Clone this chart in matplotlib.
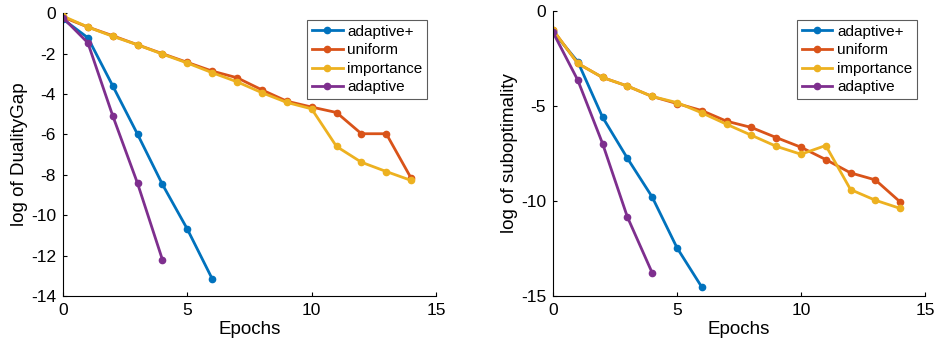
import matplotlib
matplotlib.use("Agg")
import matplotlib.pyplot as plt

plt.rcParams['font.family'] = ['Liberation Sans', 'DejaVu Sans']
plt.rcParams['axes.unicode_minus'] = False

# MATLAB default colours
colors = ['#0072BD', '#D95319', '#EDB120', '#7E2F8E']
names = ['adaptive+', 'uniform', 'importance', 'adaptive']

# left panel: log of DualityGap
gap_adaptive_plus = [-0.3, -1.22, -3.6, -6.0, -8.48, -10.69, -13.15]
gap_uniform = [-0.2, -0.69, -1.12, -1.57, -2.01, -2.44, -2.87, -3.2, -3.8, -4.36,
               -4.65, -4.92, -5.97, -5.97, -8.17]
gap_importance = [-0.15, -0.69, -1.15, -1.57, -2.03, -2.47, -2.95, -3.4, -3.94, -4.42,
                  -4.74, -6.6, -7.38, -7.84, -8.28]
gap_adaptive = [-0.23, -1.47, -5.08, -8.43, -12.21]

# right panel: log of suboptimality
sub_adaptive_plus = [-1.09, -2.67, -5.59, -7.75, -9.79, -12.46, -14.53]
sub_uniform = [-1.0, -2.76, -3.5, -3.95, -4.5, -4.87, -5.24, -5.8, -6.13, -6.66,
               -7.17, -7.82, -8.52, -8.89, -10.05]
sub_importance = [-1.0, -2.76, -3.5, -3.95, -4.5, -4.82, -5.36, -5.96, -6.54, -7.12,
                  -7.54, -7.08, -9.4, -9.96, -10.39]
sub_adaptive = [-1.12, -3.64, -6.98, -10.84, -13.78]

fig = plt.figure(figsize=(9.36, 3.51), dpi=100)
ax1 = fig.add_axes([0.0673, 0.1567, 0.3985, 0.806])
ax2 = fig.add_axes([0.5908, 0.1567, 0.3974, 0.812])


def draw(ax, series, ylabel, ylim, yticks, anchor):
    for vals, c, n in zip(series, colors, names):
        ax.plot(range(len(vals)), vals, '.-', color=c, lw=2, ms=9, label=n)
    ax.set_xlim(0, 15)
    ax.set_ylim(*ylim)
    ax.set_xticks([0, 5, 10, 15])
    ax.set_yticks(yticks)
    ax.spines['top'].set_visible(False)
    ax.spines['right'].set_visible(False)
    for s in ax.spines.values():
        s.set_linewidth(0.8)
    ax.tick_params(direction='in', length=3, labelsize=12.5, pad=5)
    ax.set_xlabel('Epochs', fontsize=13.5, labelpad=2)
    ax.set_ylabel(ylabel, fontsize=13.5, labelpad=2)
    leg = ax.legend(loc='upper right', bbox_to_anchor=anchor, fontsize=11,
                    frameon=True, fancybox=False, edgecolor='#333333',
                    handlelength=2.0, handletextpad=0.3, borderpad=0.3,
                    labelspacing=0.3, borderaxespad=0)
    leg.get_frame().set_linewidth(0.8)


draw(ax1, [gap_adaptive_plus, gap_uniform, gap_importance, gap_adaptive],
     'log of DualityGap', (-14, 0), range(-14, 1, 2), (0.976, 0.975))
draw(ax2, [sub_adaptive_plus, sub_uniform, sub_importance, sub_adaptive],
     'log of suboptimality', (-15, 0), [-15, -10, -5, 0], (0.978, 0.968))

fig.savefig('out.png', dpi=100)
